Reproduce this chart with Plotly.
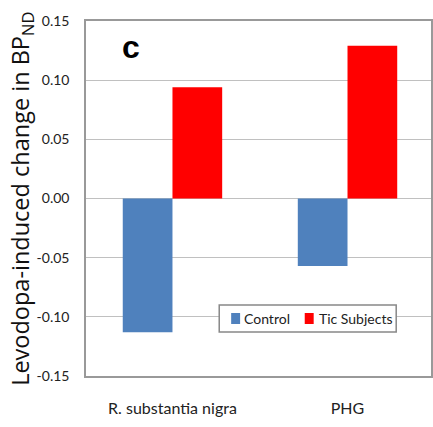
import plotly.graph_objects as go

categories = ["R. substantia nigra", "PHG"]
control = [-0.113, -0.057]
tic = [0.094, 0.129]
series_names = ["Control", "Tic Subjects"]
series_colors = ["#4F81BD", "#FF0000"]
y_ticks = [0.15, 0.10, 0.05, 0.00, -0.05, -0.10, -0.15]
y_tick_text = ["0.15", "0.10", "0.05", "0.00", "-0.05", "-0.10", "-0.15"]

FONT = "Lato"

fig = go.Figure()
fig.add_trace(go.Bar(x=categories, y=control, name=series_names[0], marker_color=series_colors[0], marker_line_width=0))
fig.add_trace(go.Bar(x=categories, y=tic, name=series_names[1], marker_color=series_colors[1], marker_line_width=0))

# plot area: x 86..433 px, y 21..376 px
PL, PR, PT, PB = 86, 433, 21, 376
def px(x):
    return (x - PL) / (PR - PL)
def py(y):
    return (PB - y) / (PB - PT)

fig.update_layout(
    width=433, height=427,
    margin=dict(l=PL, r=433 - PR, t=PT, b=427 - PB),
    paper_bgcolor="white", plot_bgcolor="white",
    barmode="group", bargap=0.432, bargroupgap=0,
    font=dict(family=FONT, color="#222"),
    showlegend=False,
)
fig.update_xaxes(range=[-0.494, 1.477], showline=True, linecolor="#999", linewidth=1.5, mirror=True,
                 ticks="", tickfont=dict(size=16, family=FONT, color="#222"),
                 ticklabelstandoff=17, showgrid=False)
fig.update_yaxes(range=[-0.15, 0.15], tickvals=y_ticks, ticktext=y_tick_text,
                 showline=True, linecolor="#999", linewidth=1.5, mirror=True,
                 gridcolor="#C0C0C0", gridwidth=1, zeroline=False, ticks="",
                 ticklabelstandoff=12,
                 tickfont=dict(size=14, family=FONT, color="#222"))

# legend box (drawn manually)
fig.add_shape(type="rect", xref="paper", yref="paper",
              x0=px(220), x1=px(398), y0=py(332), y1=py(305),
              line=dict(color="#888", width=1.5), fillcolor="white", layer="above")
sq = [(232, 241), (306, 315)]
tx = [243, 318]
for (a, b), t, name, col in zip(sq, tx, series_names, series_colors):
    fig.add_shape(type="rect", xref="paper", yref="paper",
                  x0=px(a), x1=px(b), y0=py(324), y1=py(313),
                  line=dict(width=0), fillcolor=col, layer="above")
    fig.add_annotation(text=name, xref="paper", yref="paper", x=px(t), y=py(318.5),
                       xanchor="left", yanchor="middle", showarrow=False,
                       font=dict(size=14, family=FONT, color="#222"))

fig.add_annotation(text="Levodopa-induced change in BP<sub>ND</sub>", textangle=-90,
                   xref="paper", yref="paper", x=px(21), y=0.5, xanchor="center", yanchor="middle",
                   showarrow=False, font=dict(size=23.5, family="Open Sans", color="#111"))
fig.add_annotation(text="<b>c</b>", xref="paper", yref="paper", x=px(131), y=py(47),
                   xanchor="center", yanchor="middle",
                   showarrow=False, font=dict(size=32, family="Liberation Sans", color="black"))
fig.write_html("out.html")
